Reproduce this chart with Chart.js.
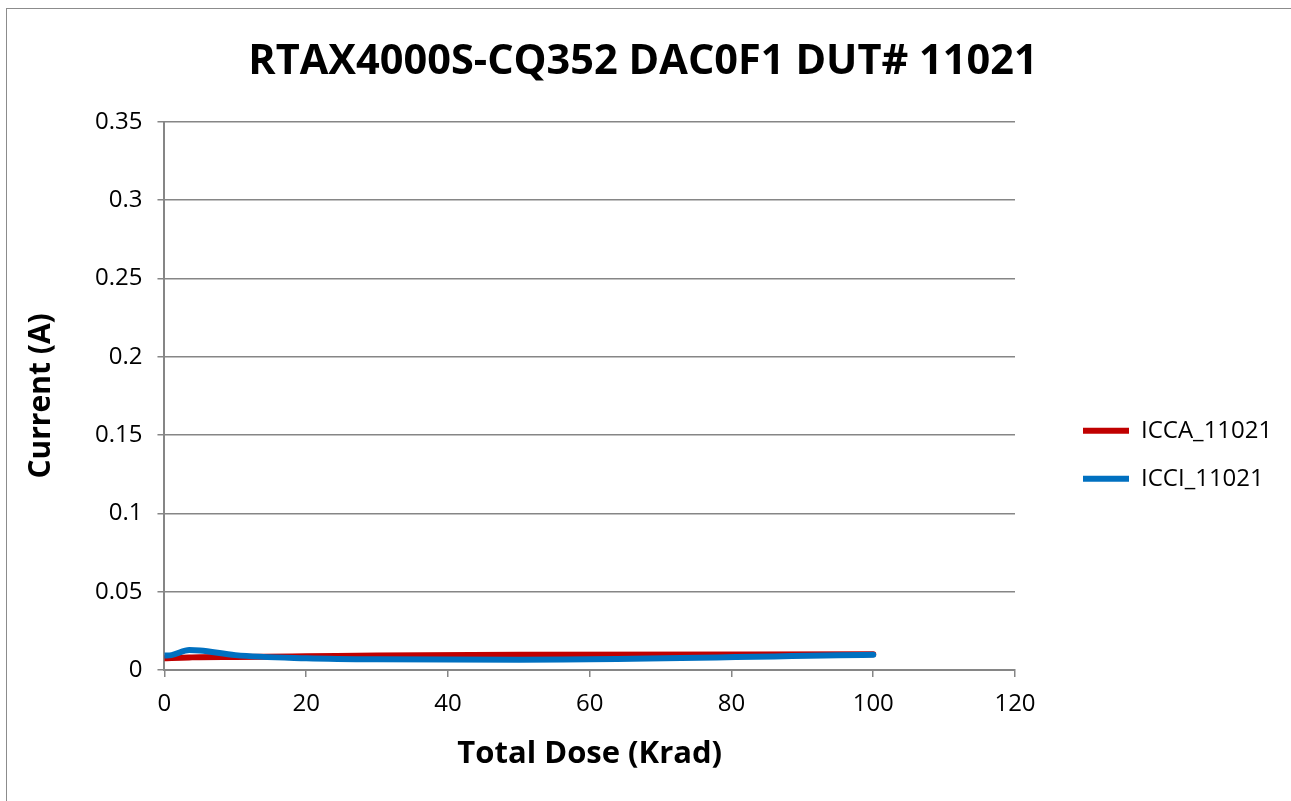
<!DOCTYPE html>
<html>
<head>
<meta charset="utf-8">
<script src="https://cdn.jsdelivr.net/npm/chart.js@4.4.1/dist/chart.umd.min.js"></script>
<style>
    html, body { margin: 0; padding: 0; background: #fff; overflow: hidden; }
    #frame { position: absolute; left: 6px; top: 8px; width: 1300px; height: 800px; border: 1px solid #8c8c8c; }
    #wrap { position: absolute; left: 0; top: 0; width: 1291px; height: 801px; }
</style>
</head>
<body>
<div id="frame"></div>
<div id="wrap"><canvas id="doseChart"></canvas></div>
<script>
// Values
const doses = [0, 1, 3.5, 5, 10, 20, 30, 50, 100];
const iccaValues = [0.0075, 0.0076, 0.0080, 0.0082, 0.0083, 0.0087, 0.0092, 0.0097, 0.0100];
const icciValues = [0.0093, 0.0095, 0.0128, 0.0125, 0.0095, 0.0075, 0.0068, 0.0066, 0.0097];
const seriesNames = ['ICCA_11021', 'ICCI_11021'];
const yTicks = [0, 0.05, 0.1, 0.15, 0.2, 0.25, 0.3, 0.35];
const xTicks = [0, 20, 40, 60, 80, 100, 120];

const fontFamily = '"Open Sans", "Noto Sans", sans-serif';
const gridColor = '#868686';

function toPoints(xs, ys) {
    return xs.map((x, i) => ({ x: x, y: ys[i] }));
}

function lineDataset(label, values, color, order) {
    return {
        label: label,
        data: toPoints(doses, values),
        borderColor: color,
        backgroundColor: color,
        borderWidth: 6,
        pointRadius: 0,
        tension: 0.4,
        cubicInterpolationMode: 'monotone',
        borderCapStyle: 'round',
        order: order
    };
}

const ctx = document.getElementById('doseChart').getContext('2d');
new Chart(ctx, {
    type: 'line',
    data: {
        datasets: [
            lineDataset(seriesNames[0], iccaValues, '#C00000', 1),
            lineDataset(seriesNames[1], icciValues, '#0070C0', 0)
        ]
    },
    options: {
        responsive: true,
        maintainAspectRatio: false,
        animation: false,
        layout: { padding: { left: 19, right: 24, top: 18, bottom: 24 } },
        plugins: {
            title: {
                display: true,
                text: 'RTAX4000S-CQ352 DAC0F1 DUT# 11021',
                color: '#000',
                font: { family: fontFamily, size: 41.5, weight: 'bold' },
                padding: { top: 19, bottom: 35 }
            },
            legend: {
                position: 'right',
                title: { display: true, text: ' ', font: { size: 12 }, padding: { top: 50, bottom: 50 } },
                labels: {
                    color: '#000',
                    font: { family: fontFamily, size: 24 },
                    usePointStyle: true,
                    pointStyle: 'line',
                    pointStyleWidth: 46,
                    padding: 24,
                    sort: (a, b) => a.datasetIndex - b.datasetIndex
                }
            },
            tooltip: { enabled: false }
        },
        scales: {
            x: {
                type: 'linear',
                min: 0,
                max: 120,
                afterBuildTicks: axis => { axis.ticks = xTicks.map(v => ({ value: v })); },
                grid: { drawOnChartArea: false, drawTicks: true, tickLength: 7, color: gridColor, lineWidth: 1.5 },
                border: { color: gridColor, width: 2 },
                ticks: { color: '#000', font: { family: fontFamily, size: 24 }, padding: 13 },
                title: {
                    display: true,
                    text: 'Total Dose (Krad)',
                    color: '#000',
                    font: { family: fontFamily, size: 31, weight: 'bold' },
                    padding: { top: 4 }
                }
            },
            y: {
                min: 0,
                max: 0.35,
                afterBuildTicks: axis => { axis.ticks = yTicks.map(v => ({ value: v })); },
                grid: { tickLength: 7, color: gridColor, lineWidth: 1.5 },
                border: { color: gridColor, width: 2 },
                ticks: {
                    color: '#000',
                    font: { family: fontFamily, size: 24 },
                    padding: 15,
                    callback: v => String(Number(v.toFixed(2)))
                },
                title: {
                    display: true,
                    text: 'Current (A)',
                    color: '#000',
                    font: { family: fontFamily, size: 30, weight: 'bold' },
                    padding: { bottom: 21 }
                }
            },
            // empty spacer axis: keeps the gap between plot and legend
            gap: {
                position: 'right',
                display: true,
                ticks: { display: false },
                grid: { display: false },
                border: { display: false },
                afterFit: axis => { axis.width = 44; }
            }
        }
    }
});
</script>
</body>
</html>
